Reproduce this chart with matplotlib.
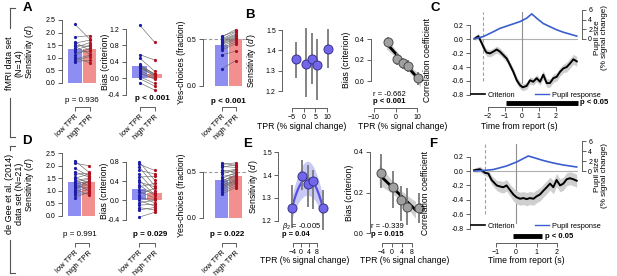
import numpy as np
import matplotlib
matplotlib.use("Agg")
import matplotlib.pyplot as plt
from matplotlib.lines import Line2D
from matplotlib.ticker import FuncFormatter

plt.rcParams["font.family"] = ["Liberation Sans", "DejaVu Sans"]
plt.rcParams["mathtext.fontset"] = "custom"
plt.rcParams["mathtext.rm"] = "Liberation Sans"
plt.rcParams["mathtext.it"] = "Liberation Sans:italic"
plt.rcParams["mathtext.bf"] = "Liberation Sans:bold"

# ---------------- data ----------------
groups = ["low TPR", "high TPR"]

# fMRI data set (N=14)
A_sens_low = [2.33, 1.82, 1.62, 1.58, 1.50, 1.45, 1.40, 1.30, 1.22, 1.10, 1.02, 0.95, 0.88, 0.85]
A_sens_high = [1.75, 1.88, 1.30, 1.70, 1.45, 1.15, 1.60, 1.50, 1.25, 1.38, 0.80, 1.10, 1.05, 0.90]
A_bias_low = [1.30, 0.58, 0.50, 0.35, 0.30, 0.28, 0.30, 0.25, 0.20, 0.15, 0.12, 0.05, 0.00, -0.10]
A_bias_high = [0.88, 0.45, 0.18, 0.10, 0.12, 0.10, 0.05, 0.08, 0.02, -0.02, 0.00, -0.12, -0.18, -0.28]
A_yes_low = [0.53, 0.52, 0.50, 0.49, 0.48, 0.47, 0.46, 0.45, 0.44, 0.42, 0.40, 0.38, 0.33, 0.18]
A_yes_high = [0.58, 0.60, 0.57, 0.55, 0.54, 0.53, 0.52, 0.51, 0.50, 0.49, 0.47, 0.45, 0.37, 0.27]
A_p = ["p = 0.936", "p < 0.001", "p < 0.001"]
A_p_bold = [False, True, True]

# de Gee et al. (2014) data set (N=21)
D_sens_low = [2.20, 2.10, 1.90, 1.75, 1.65, 1.55, 1.50, 1.45, 1.40, 1.35, 1.30,
              1.25, 1.20, 1.15, 1.10, 1.05, 1.00, 0.95, 0.90, 0.85, 0.72]
D_sens_high = [1.75, 2.00, 1.60, 1.55, 1.70, 1.30, 1.65, 1.20, 1.50, 1.45, 1.00,
               1.38, 1.10, 1.35, 1.25, 0.85, 1.40, 1.15, 1.05, 0.90, 0.95]
D_bias_low = [0.80, 0.75, 0.70, 0.62, 0.55, 0.48, 0.42, 0.38, 0.32, 0.28, 0.22,
              0.18, 0.12, 0.08, 0.05, 0.00, -0.05, -0.10, -0.15, -0.20, -0.35]
D_bias_high = [0.42, 0.62, 0.30, 0.55, 0.20, 0.50, 0.12, 0.28, 0.10, 0.35, 0.15,
               0.05, 0.25, -0.05, 0.02, -0.12, 0.00, -0.08, -0.20, -0.15, -0.25]
D_yes_low = [0.60, 0.58, 0.56, 0.55, 0.52, 0.50, 0.48, 0.45, 0.43, 0.41, 0.40,
             0.38, 0.37, 0.36, 0.35, 0.34, 0.33, 0.32, 0.30, 0.28, 0.26]
D_yes_high = [0.57, 0.60, 0.55, 0.58, 0.50, 0.53, 0.52, 0.48, 0.49, 0.45, 0.47,
              0.43, 0.46, 0.40, 0.42, 0.39, 0.41, 0.38, 0.37, 0.35, 0.33]
D_p = ["p = 0.991", "p = 0.029", "p = 0.022"]
D_p_bold = [False, True, True]

# B: binned TPR (fMRI)
B_tpr = [-3.5, 0.8, 3.4, 5.9, 10.6]
B_sens = [1.355, 1.335, 1.358, 1.327, 1.406]
B_sens_lo = [1.266, 1.170, 1.236, 1.155, 1.315]
B_sens_hi = [1.442, 1.510, 1.483, 1.454, 1.505]
B_bias = [0.37, 0.21, 0.17, 0.145, 0.03]
B_bias_lo = [0.32, 0.15, 0.11, 0.09, -0.04]
B_bias_hi = [0.42, 0.27, 0.22, 0.20, 0.09]
B_stats = ["r = -0.662", "p < 0.001"]

# E: binned TPR (de Gee 2014)
E_tpr = [-4.3, 0.4, 3.6, 6.0, 11.0]
E_sens = [1.257, 1.395, 1.359, 1.374, 1.258]
E_sens_lo = [1.171, 1.336, 1.260, 1.254, 1.162]
E_sens_hi = [1.355, 1.464, 1.442, 1.420, 1.336]
E_sens_band = [0.05, 0.07, 0.075, 0.07, 0.05]
E_bias = [0.298, 0.225, 0.165, 0.13, 0.125]
E_bias_lo = [0.22, 0.125, 0.06, 0.04, 0.05]
E_bias_hi = [0.39, 0.305, 0.23, 0.22, 0.20]
E_stats = [r"$\beta_2$ = -0.005", "p = 0.04", "r = -0.339", "p = 0.015"]

# C: time course (fMRI)
C_time = [-2.75, -2.55, -2.35, -2.16, -2.06, -1.86, -1.67, -1.47, -1.28, -1.08, -0.88,
          -0.69, -0.49, -0.29, -0.10, 0.06, 0.29, 0.49, 0.68, 0.88, 1.08, 1.27,
          1.47, 1.66, 1.86, 2.06, 2.25, 2.45, 2.65, 2.84, 3.04, 3.24]
C_crit = [0.01, 0.04, -0.06, -0.16, -0.195, -0.205, -0.18, -0.15, -0.18, -0.23, -0.28,
          -0.37, -0.47, -0.59, -0.66, -0.69, -0.67, -0.59, -0.61, -0.56, -0.61, -0.51,
          -0.63, -0.63, -0.56, -0.54, -0.47, -0.42, -0.40, -0.35, -0.29, -0.32]
C_crit_err = [0.03, 0.04, 0.05, 0.05, 0.05, 0.05, 0.05, 0.05, 0.05, 0.05, 0.05,
              0.05, 0.05, 0.05, 0.05, 0.05, 0.05, 0.05, 0.05, 0.05, 0.05, 0.06,
              0.06, 0.06, 0.06, 0.06, 0.06, 0.06, 0.07, 0.07, 0.07, 0.07]
C_pupil_time = [-2.81, -2.26, -1.67, -1.28, -0.69, -0.10, 0.29, 0.59, 0.88, 1.27, 1.66,
                2.06, 2.45, 2.84, 3.24]
C_pupil = [0.0, 0.5, 1.5, 2.2, 2.9, 3.6, 4.3, 5.2, 4.3, 3.2, 2.55, 1.9, 1.4, 1.0, 0.6]
C_sig = [-0.92, 3.31]
C_onset = -2.29

# F: time course (de Gee 2014)
F_time = [-2.05, -1.76, -1.51, -1.35, -1.19, -0.94, -0.78, -0.62, -0.46, -0.29, -0.13,
          0.03, 0.20, 0.36, 0.52, 0.68, 0.85, 1.01, 1.17, 1.33, 1.50, 1.66, 1.82,
          1.98, 2.15, 2.31, 2.47, 2.63, 2.80, 2.96]
F_crit = [0.01, 0.025, -0.025, -0.035, -0.125, -0.20, -0.215, -0.225, -0.20, -0.265, -0.325,
          -0.365, -0.385, -0.375, -0.39, -0.375, -0.385, -0.35, -0.325, -0.275, -0.225,
          -0.175, -0.225, -0.125, -0.20, -0.175, -0.115, -0.10, -0.115, -0.135]
F_crit_err = [0.03, 0.04, 0.04, 0.05, 0.06, 0.07, 0.08, 0.08, 0.08, 0.08, 0.09,
              0.09, 0.09, 0.09, 0.09, 0.09, 0.09, 0.09, 0.09, 0.09, 0.09, 0.09, 0.09,
              0.09, 0.09, 0.09, 0.09, 0.09, 0.09, 0.09]
F_pupil_time = [-2.05, -1.59, -1.10, -0.46, 0.03, 0.36, 0.60, 0.85, 1.33, 1.82, 2.31, 2.96]
F_pupil = [0.0, 0.1, 0.3, 1.0, 1.8, 2.5, 3.0, 2.7, 2.1, 1.6, 1.2, 0.8]
F_sig = [-0.15, 1.27]
F_onset = -1.5

legend_labels = ["Criterion", "Pupil response"]

# ---------------- style ----------------
W, H = 617, 276
fig = plt.figure(figsize=(W / 100, H / 100), dpi=100)

SPINE = "#606060"
BAR_BLUE = "#8e8ef2"
BAR_RED = "#f29090"
DOT_BLUE = "#1c1ca8"
DOT_RED = "#b01020"
PAIR = "#6a6a6a"
PT_BLUE = "#7466ea"
PT_GRAY = "#a0a0a0"
ERR = "#7a7a7a"
BAND = "#cfcfcf"
PUPIL = "#3a5fcd"
TICK_FS = 5.0
LAB_FS = 6.2
TXT_FS = 5.8

fmt1 = FuncFormatter(lambda v, p: "%.1f" % v)
minus_fmt0 = FuncFormatter(lambda v, p: ("%d" % round(v)).replace("-", "\u2212"))


def cal(pa, va, pb, vb, p):
    return va + (p - pa) * (vb - va) / (pb - pa)


def make_ax(box, xcal, ycal):
    x0, x1, y0, y1 = box
    ax = fig.add_axes([x0 / W, 1 - y1 / H, (x1 - x0) / W, (y1 - y0) / H])
    ax.set_xlim(cal(*xcal, x0), cal(*xcal, x1))
    ax.set_ylim(cal(*ycal, y1), cal(*ycal, y0))
    for s in ("top", "right"):
        ax.spines[s].set_visible(False)
    for s in ("left", "bottom"):
        ax.spines[s].set_color(SPINE)
        ax.spines[s].set_linewidth(0.7)
    ax.tick_params(direction="out", length=3, width=0.7, color=SPINE,
                   labelsize=TICK_FS, pad=1.5)
    ax.patch.set_alpha(0)
    ax._box = box
    return ax


def ylab(ax, text, right_px, mid_val):
    x0, x1, y0, y1 = ax._box
    ax.set_ylabel(text, fontsize=LAB_FS)
    lo, hi = ax.get_ylim()
    ax.yaxis.set_label_coords((right_px - x0) / (x1 - x0), (mid_val - lo) / (hi - lo))


def xlab(ax, text, cx_px, top_px):
    x0, x1, y0, y1 = ax._box
    ax.set_xlabel(text, fontsize=LAB_FS)
    ax.xaxis.set_label_coords((cx_px - x0) / (x1 - x0), (y1 - top_px) / (y1 - y0))


def ftext(x, y, s, **kw):
    kw.setdefault("fontsize", TXT_FS)
    fig.text(x / W, 1 - y / H, s, **kw)


def bar_panel(box, xcal, ycal, low, high, yticks, ylabel, ylab_px, ptxt, pbold, pxy, ref=None):
    ax = make_ax(box, xcal, ycal)
    means = [np.mean(low), np.mean(high)]
    ax.bar([0, 1], means, width=0.95, color=[BAR_BLUE, BAR_RED], zorder=1, linewidth=0)
    for lv, hv in zip(low, high):
        ax.plot([0, 1], [lv, hv], color=PAIR, lw=0.45, zorder=2)
    ax.plot(np.zeros(len(low)), low, "o", ms=2.3, color=DOT_BLUE, mew=0, zorder=3)
    ax.plot(np.ones(len(high)), high, "o", ms=2.3, color=DOT_RED, mew=0, zorder=3)
    if ref is not None:
        ax.plot([ax.get_xlim()[0], 1.8], [ref, ref], ls=(0, (3, 2)), color="#9a9a9a",
                lw=0.8, clip_on=False, zorder=0)
    ax.set_yticks(yticks)
    ax.yaxis.set_major_formatter(fmt1)
    ax.spines["left"].set_bounds(yticks[0], yticks[-1])
    ax.set_xticks([0, 1])
    ax.set_xticklabels(groups, rotation=45, ha="right", va="top",
                       rotation_mode="anchor", fontsize=5.5)
    ax.spines["bottom"].set_bounds(0, 1)
    ylab(ax, ylabel, ylab_px, (yticks[0] + yticks[-1]) / 2)
    ftext(pxy[0], pxy[1], ptxt, ha="center", va="center",
          fontweight="bold" if pbold else "normal")
    return ax


def linfit_band(ax, x, y, xr):
    x = np.asarray(x); y = np.asarray(y)
    b, a = np.polyfit(x, y, 1)
    xx = np.linspace(xr[0], xr[1], 100)
    yy = a + b * xx
    res = y - (a + b * x)
    s = np.sqrt(np.sum(res ** 2) / (len(x) - 2))
    se = s * np.sqrt(1 / len(x) + (xx - x.mean()) ** 2 / np.sum((x - x.mean()) ** 2))
    ax.fill_between(xx, yy - 2.2 * se, yy + 2.2 * se, color=BAND, lw=0, zorder=0)
    ax.plot(xx, yy, color="k", lw=2.0, zorder=2)


def points(ax, x, y, lo, hi, face, edge):
    y = np.asarray(y)
    ax.errorbar(x, y, yerr=[y - np.asarray(lo), np.asarray(hi) - y], fmt="none",
                ecolor=ERR, elinewidth=1.3, capsize=0, zorder=3)
    ax.plot(x, y, "o", ms=6.5, mfc=face, mec=edge, mew=0.7, zorder=4)


# ---------------- row 1 ----------------
bar_panel((62, 104, 12, 107), (75, 0, 89.5, 1), (83, 0.0, 20, 2.5),
          A_sens_low, A_sens_high, [0, 0.5, 1.0, 1.5, 2.0, 2.5],
          "Sensitivity ($d'$)", 37, A_p[0], A_p_bold[0], (82, 100))
bar_panel((126, 166, 12, 107), (139.5, 0, 154.5, 1), (29, 1.2, 95, -0.4),
          A_bias_low, A_bias_high, [-0.4, 0.0, 0.4, 0.8, 1.2],
          "Bias (criterion)", 110, A_p[1], A_p_bold[1], (152, 99))
bar_panel((203, 247, 12, 107), (221.5, 0, 235.5, 1), (86, 0.0, 39, 0.5),
          A_yes_low, A_yes_high, [0.0, 0.5],
          "Yes-choices (fraction)", 186, A_p[2], A_p_bold[2], (228, 101), ref=0.5)

# B sensitivity
axb1 = make_ax((282, 336, 12, 108), (292, -5, 327, 10), (91, 1.2, 30, 1.5))
points(axb1, B_tpr, B_sens, B_sens_lo, B_sens_hi, PT_BLUE, "#34348a")
axb1.set_yticks([1.2, 1.3, 1.4, 1.5]); axb1.yaxis.set_major_formatter(fmt1)
axb1.spines["left"].set_bounds(1.2, 1.5)
axb1.set_xticks([-5, 0, 5, 10]); axb1.xaxis.set_major_formatter(minus_fmt0)
axb1.spines["bottom"].set_bounds(-5, 10)
ylab(axb1, "Sensitivity ($d'$)", 259, 1.35)
xlab(axb1, "TPR (% signal change)", 302, 122)

# B bias
axb2 = make_ax((371, 425, 12, 108), (374, -10, 417, 10), (81, 0.0, 39, 0.4))
linfit_band(axb2, B_tpr, B_bias, (-4.2, 11.6))
points(axb2, B_tpr, B_bias, B_bias_lo, B_bias_hi, PT_GRAY, "#4a4a4a")
axb2.set_yticks([0, 0.2, 0.4]); axb2.yaxis.set_major_formatter(fmt1)
axb2.spines["left"].set_bounds(0, 0.4)
axb2.set_xticks([-10, 0, 10]); axb2.xaxis.set_major_formatter(minus_fmt0)
axb2.spines["bottom"].set_bounds(-10, 10)
ylab(axb2, "Bias (criterion)", 351, 0.2)
xlab(axb2, "TPR (% signal change)", 403, 122)
ftext(373, 94, B_stats[0], ha="left", va="center", fontsize=5.5)
ftext(373, 101, B_stats[1], ha="left", va="center", fontweight="bold", fontsize=5.5)


def time_panel(box, xcal, ycal, pcal, t, crit, err, pt, pupil, sig, onset, xticks,
               leg_xy, sig_px, ylab_px, rlab_xy, xlab_c, xlab_top):
    ax = make_ax(box, xcal, ycal)
    t = np.asarray(t); crit = np.asarray(crit); err = np.asarray(err)
    ax.fill_between(t, crit - err, crit + err, color=BAND, lw=0, zorder=1)
    ax.plot([t[0], t[-1]], [0, 0], color="#b0b0b0", lw=0.8, zorder=0)
    ax.plot([0, 0], [-0.72, 0.38], color="#909090", lw=0.8, zorder=0)
    ax.plot([onset, onset], [-0.6, 0.38], color="#a0a0a0", lw=0.8, ls=(0, (3, 2)), zorder=0)
    ax.plot(t, crit, color="k", lw=1.4, zorder=3)
    ax.set_yticks([-0.8, -0.6, -0.4, -0.2, 0.0, 0.2])
    ax.yaxis.set_major_formatter(fmt1)
    ax.spines["left"].set_bounds(-0.8, 0.2)
    ax.set_xticks(xticks); ax.xaxis.set_major_formatter(minus_fmt0)
    ax.spines["bottom"].set_bounds(xticks[0], xticks[-1])
    ylab(ax, "Correlation coefficient", ylab_px, -0.3)
    xlab(ax, "Time from report (s)", xlab_c, xlab_top)
    # p < 0.05 bar
    ysig = cal(*ycal, sig_px[1])
    ax.plot(sig, [ysig, ysig], color="k", lw=3.5, solid_capstyle="butt", clip_on=False)
    ftext(sig_px[0], sig_px[1], "p < 0.05", ha="left", va="center", fontweight="bold",
          fontsize=5.5)
    # pupil twin
    ax2 = ax.twinx()
    x0, x1, y0, y1 = box
    ax2.set_ylim(cal(*pcal, y1), cal(*pcal, y0))
    ax2.plot(pt, pupil, color=PUPIL, lw=1.2, zorder=3)
    for s in ("top", "left", "bottom"):
        ax2.spines[s].set_visible(False)
    ax2.spines["right"].set_color(SPINE); ax2.spines["right"].set_linewidth(0.7)
    ax2.spines["right"].set_bounds(0, 6)
    ax2.set_yticks([0, 2, 4, 6])
    ax2.tick_params(direction="out", length=3, width=0.7, color=SPINE,
                    labelsize=TICK_FS, pad=1.5)
    ax2.set_ylabel("Pupil size\n(% signal change)", fontsize=5.9, rotation=90,
                   linespacing=0.95, va="center", ha="center")
    ax2.yaxis.set_label_coords((rlab_xy[0] - x0) / (x1 - x0), (y1 - rlab_xy[1]) / (y1 - y0))
    handles = [Line2D([], [], color="k", lw=1.2), Line2D([], [], color=PUPIL, lw=1.0)]
    ax.legend(handles, legend_labels, ncol=2, fontsize=5.3, frameon=False,
              loc="center left", bbox_to_anchor=(leg_xy[0] / W, 1 - leg_xy[1] / H),
              bbox_transform=fig.transFigure, handlelength=1.9, columnspacing=2.6,
              handletextpad=0.4, borderpad=0, borderaxespad=0)
    return ax


time_panel((470, 582, 5, 107), (521.7, 0, 538.7, 1), (39, 0.0, 95, -0.8), (39, 0, 10, 6),
           C_time, C_crit, C_crit_err, C_pupil_time, C_pupil, C_sig, C_onset,
           [-2, -1, 0, 1, 2], (471, 95), (580, 103), 432, (601, 38), 519, 122)

# ---------------- row 2 ----------------
bar_panel((62, 104, 148, 243), (74.5, 0, 88.5, 1), (216, 0.0, 153, 2.5),
          D_sens_low, D_sens_high, [0, 0.5, 1.0, 1.5, 2.0, 2.5],
          "Sensitivity ($d'$)", 37, D_p[0], D_p_bold[0], (80, 235))
bar_panel((126, 166, 148, 243), (139, 0, 154.5, 1), (200.3, 0.0, 161.7, 0.8),
          D_bias_low, D_bias_high, [-0.4, 0.0, 0.4, 0.8],
          "Bias (criterion)", 109, D_p[1], D_p_bold[1], (150, 235))
bar_panel((203, 247, 148, 243), (221.5, 0, 235.5, 1), (218, 0.0, 172, 0.5),
          D_yes_low, D_yes_high, [0.0, 0.5],
          "Yes-choices (fraction)", 186, D_p[2], D_p_bold[2], (227, 234), ref=0.5)

# E sensitivity
axe1 = make_ax((278, 336, 148, 243), (293, -4, 317, 8), (221, 1.2, 152, 1.5))
coef = np.polyfit(E_tpr, E_sens, 2)
xx = np.linspace(min(E_tpr), max(E_tpr), 100)
yy = np.polyval(coef, xx)
hw = np.interp(xx, E_tpr, E_sens_band)
axe1.fill_between(xx, yy - hw, yy + hw, color="#c9c9f6", lw=0, zorder=0)
axe1.plot(xx, yy, color="#5a4fe0", lw=1.6, zorder=2)
points(axe1, E_tpr, E_sens, E_sens_lo, E_sens_hi, PT_BLUE, "#34348a")
axe1.set_yticks([1.2, 1.3, 1.4, 1.5]); axe1.yaxis.set_major_formatter(fmt1)
axe1.spines["left"].set_bounds(1.2, 1.5)
axe1.set_xticks([-4, 0, 4, 8]); axe1.xaxis.set_major_formatter(minus_fmt0)
axe1.spines["bottom"].set_bounds(-4, 8)
ylab(axe1, "Sensitivity ($d'$)", 261, 1.35)
xlab(axe1, "TPR (% signal change)", 305, 256)
ftext(282, 226.5, E_stats[0], ha="left", va="center", fontsize=5.4)
ftext(282, 235, E_stats[1], ha="left", va="center", fontweight="bold", fontsize=5.4)

# E bias
axe2 = make_ax((370, 425, 148, 243), (381.7, -4, 411.7, 8), (233, 0.0, 152, 0.4))
linfit_band(axe2, E_tpr, E_bias, (-5.0, 9.5))
points(axe2, E_tpr, E_bias, E_bias_lo, E_bias_hi, PT_GRAY, "#4a4a4a")
axe2.set_yticks([0, 0.2, 0.4]); axe2.yaxis.set_major_formatter(fmt1)
axe2.spines["left"].set_bounds(0, 0.4)
axe2.set_xticks([-4, 0, 4, 8]); axe2.xaxis.set_major_formatter(minus_fmt0)
axe2.spines["bottom"].set_bounds(-4, 8)
ylab(axe2, "Bias (criterion)", 354, 0.2)
xlab(axe2, "TPR (% signal change)", 405, 256)
ftext(371, 227, E_stats[2], ha="left", va="center", fontsize=5.5)
ftext(371, 234, E_stats[3], ha="left", va="center", fontweight="bold", fontsize=5.5)

time_panel((470, 582, 140, 243), (516, 0, 536.5, 1), (171, 0.0, 228.7, -0.8), (171, 0, 141, 6),
           F_time, F_crit, F_crit_err, F_pupil_time, F_pupil, F_sig, F_onset,
           [-1, 0, 1, 2], (471, 226), (545, 236), 430, (601, 175), 526, 256)

# ---------------- panel letters & data-set labels ----------------
for lx, ly, s in [(27, 8, "A"), (250, 15, "B"), (435, 8, "C"),
                  (27, 141, "D"), (248, 144, "E"), (433, 144, "F")]:
    ftext(lx, ly, s, fontsize=9.5, fontweight="bold", ha="center", va="center")

ftext(14.5, 63, "fMRI data set\n(N=14)", rotation=90, ha="center", va="center",
      fontsize=6.5, linespacing=1.0)
ftext(14.5, 194, "de Gee et al. (2014)\ndata set (N=21)", rotation=90, ha="center",
      va="center", fontsize=6.5, linespacing=1.0)
for seg in [((10, 10), (8, 28)), ((10, 15), (8, 8)), ((10, 10), (98, 137)), ((10, 15), (137, 137)),
            ((10, 10), (146, 150)), ((10, 15), (146, 146)), ((10, 10), (240, 273)),
            ((10, 15), (273, 273))]:
    xs = [v / W for v in seg[0]]
    ys = [1 - v / H for v in seg[1]]
    fig.add_artist(Line2D(xs, ys, color="#555555", lw=0.8, transform=fig.transFigure))

fig.savefig("out.png", dpi=100)
